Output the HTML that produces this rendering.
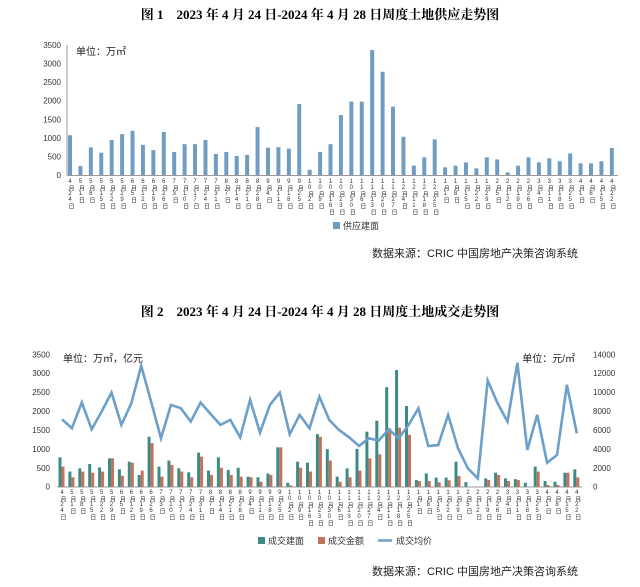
<!DOCTYPE html>
<html><head><meta charset="utf-8">
<style>
body{margin:0;background:#fff;width:640px;height:587px;overflow:hidden;font-family:"Liberation Sans","Noto Sans CJK SC",sans-serif;}
svg{display:block}
.vt{writing-mode:vertical-rl;text-orientation:upright;font-size:6px;fill:#333;font-family:"Liberation Sans","Noto Sans CJK SC",sans-serif;}
</style></head>
<body>
<svg id="svg" width="640" height="587">
<text x="320" y="19" text-anchor="middle" font-size="13" font-weight="bold" font-family="'Liberation Serif','Noto Serif CJK SC',serif">图 1　2023 年 4 月 24 日-2024 年 4 月 28 日周度土地供应走势图</text>
<text x="76" y="55" font-size="10" fill="#222">单位：万㎡</text>
<rect x="333" y="222" width="7" height="7" fill="#6f9cc3"/>
<text x="343" y="229" font-size="9" fill="#333">供应建面</text>
<text x="578" y="257" text-anchor="end" font-size="11" fill="#222">数据来源：CRIC 中国房地产决策咨询系统</text>

<text x="320" y="316" text-anchor="middle" font-size="13" font-weight="bold" font-family="'Liberation Serif','Noto Serif CJK SC',serif">图 2　2023 年 4 月 24 日-2024 年 4 月 28 日周度土地成交走势图</text>
<text x="63" y="362" font-size="10" fill="#222">单位：万㎡，亿元</text>
<text x="575" y="362" text-anchor="end" font-size="10" fill="#222">单位：元/㎡</text>
<rect x="258" y="537" width="7" height="7" fill="#3c8b87"/>
<text x="268" y="544" font-size="9" fill="#333">成交建面</text>
<rect x="318" y="537" width="7" height="7" fill="#c4725b"/>
<text x="328" y="544" font-size="9" fill="#333">成交金额</text>
<line x1="378" y1="540.5" x2="392" y2="540.5" stroke="#6c9fc9" stroke-width="2.5"/>
<text x="396" y="544" font-size="9" fill="#333">成交均价</text>
<text x="578" y="575" text-anchor="end" font-size="11" fill="#222">数据来源：CRIC 中国房地产决策咨询系统</text>
</svg>
<script>
const categories=["4月24日","5月1日","5月8日","5月15日","5月22日","5月29日","6月5日","6月12日","6月19日","6月26日","7月3日","7月10日","7月17日","7月24日","7月31日","8月7日","8月14日","8月21日","8月28日","9月4日","9月11日","9月18日","9月25日","10月2日","10月9日","10月16日","10月23日","10月30日","11月6日","11月13日","11月20日","11月27日","12月4日","12月11日","12月18日","12月25日","1月1日","1月8日","1月15日","1月22日","1月29日","2月5日","2月12日","2月19日","2月26日","3月4日","3月11日","3月18日","3月25日","4月1日","4月8日","4月15日","4月22日"];
const supplyValues=[1070,240,745,600,940,1100,1190,810,670,1160,620,830,830,940,565,620,510,540,1290,735,750,710,1910,140,620,830,1615,1975,1975,3364,2780,1840,1030,250,475,960,205,250,340,180,475,420,70,250,475,340,450,370,580,315,315,370,725];
const dealArea=[776,400,485,600,510,750,460,660,310,1320,530,690,485,380,900,425,776,440,500,265,250,350,1040,105,660,635,1390,990,265,485,1000,1455,1745,2630,3085,2135,175,350,240,240,660,120,0,220,370,220,200,105,530,150,130,370,460];
const dealAmount=[530,250,400,370,400,750,290,635,425,1150,265,575,400,250,795,310,500,310,265,250,130,310,1040,35,500,400,1320,690,130,250,425,750,855,1545,1560,1370,150,150,115,170,280,0,0,180,310,150,175,0,400,45,45,370,250];
const dealPrice=[7130,6180,8900,6070,7940,9950,6530,8820,12780,9000,5120,8650,8300,6880,8900,7700,6530,7060,5220,9180,5720,8650,9950,5540,7590,6170,9510,7050,5990,5220,4300,5120,4870,6070,5120,6520,8290,4300,4400,7580,4060,1940,880,11230,8820,6880,13100,3880,7590,2540,3350,10770,5650];
const leftTicks=[0,500,1000,1500,2000,2500,3000,3500];
const rightTicks=[0,2000,4000,6000,8000,10000,12000,14000];

const svg=document.getElementById('svg');
const NS='http://www.w3.org/2000/svg';
function mk(tag,attrs){const e=document.createElementNS(NS,tag);for(const k in attrs)e.setAttribute(k,attrs[k]);svg.appendChild(e);return e;}

// Chart 1 axes
const c1={x0:70,step:10.42,y0:175,yTop:45,max:3500};
const y1=v=>c1.y0-(v/c1.max)*(c1.y0-c1.yTop);
const x1=i=>c1.x0+i*c1.step;
let l=mk('line',{x1:67,y1:c1.yTop,x2:67,y2:c1.y0,stroke:'#999'});


l=mk('line',{x1:67,y1:c1.y0+0.5,x2:618,y2:c1.y0+0.5,stroke:'#999'});


leftTicks.forEach(t=>{
  const e=mk('text',{x:61,y:y1(t)+3,'text-anchor':'end','font-size':8,fill:'#333'});
  e.textContent=t;
  
  
});
supplyValues.forEach((v,i)=>{
  const r=mk('rect',{x:x1(i)-2,y:y1(v),width:4,height:c1.y0-y1(v),fill:'#6f9cc3'});
  
  
});
categories.forEach((c,i)=>{
  const e=mk('text',{x:x1(i),y:179,class:'vt'});
  e.textContent=c;
  
  
});

// Chart 2
const c2={x0:62,step:9.9,y0:486.7,yTop:354.3,maxL:3500,maxR:14000};
const yL=v=>c2.y0-(v/c2.maxL)*(c2.y0-c2.yTop);
const yR=v=>c2.y0-(v/c2.maxR)*(c2.y0-c2.yTop);
const x2=i=>c2.x0+i*c2.step;
l=mk('line',{x1:57,y1:487,x2:582,y2:487,stroke:'#999'});


leftTicks.forEach(t=>{
  const e=mk('text',{x:50,y:yL(t)+3,'text-anchor':'end','font-size':8,fill:'#333'});
  e.textContent=t;
  
  
});
rightTicks.forEach(t=>{
  const e=mk('text',{x:593,y:yR(t)+3,'font-size':8,fill:'#333'});
  e.textContent=t;
  
  
});
dealArea.forEach((v,i)=>{
  const r=mk('rect',{x:x2(i)-3.5,y:yL(v),width:3,height:c2.y0-yL(v),fill:'#3c8b87'});
  
  
});
dealAmount.forEach((v,i)=>{
  const r=mk('rect',{x:x2(i)-0.5,y:yL(v),width:3,height:c2.y0-yL(v),fill:'#c4725b'});
  
  
});
const pts=dealPrice.map((v,i)=>x2(i).toFixed(1)+','+yR(v).toFixed(1)).join(' ');
const pl=mk('polyline',{points:pts,fill:'none',stroke:'#6c9fc9','stroke-width':2.6,'stroke-linejoin':'miter'});


categories.forEach((c,i)=>{
  const e=mk('text',{x:x2(i),y:490,class:'vt'});
  e.textContent=c;
  
  
});
</script>
</body></html>
